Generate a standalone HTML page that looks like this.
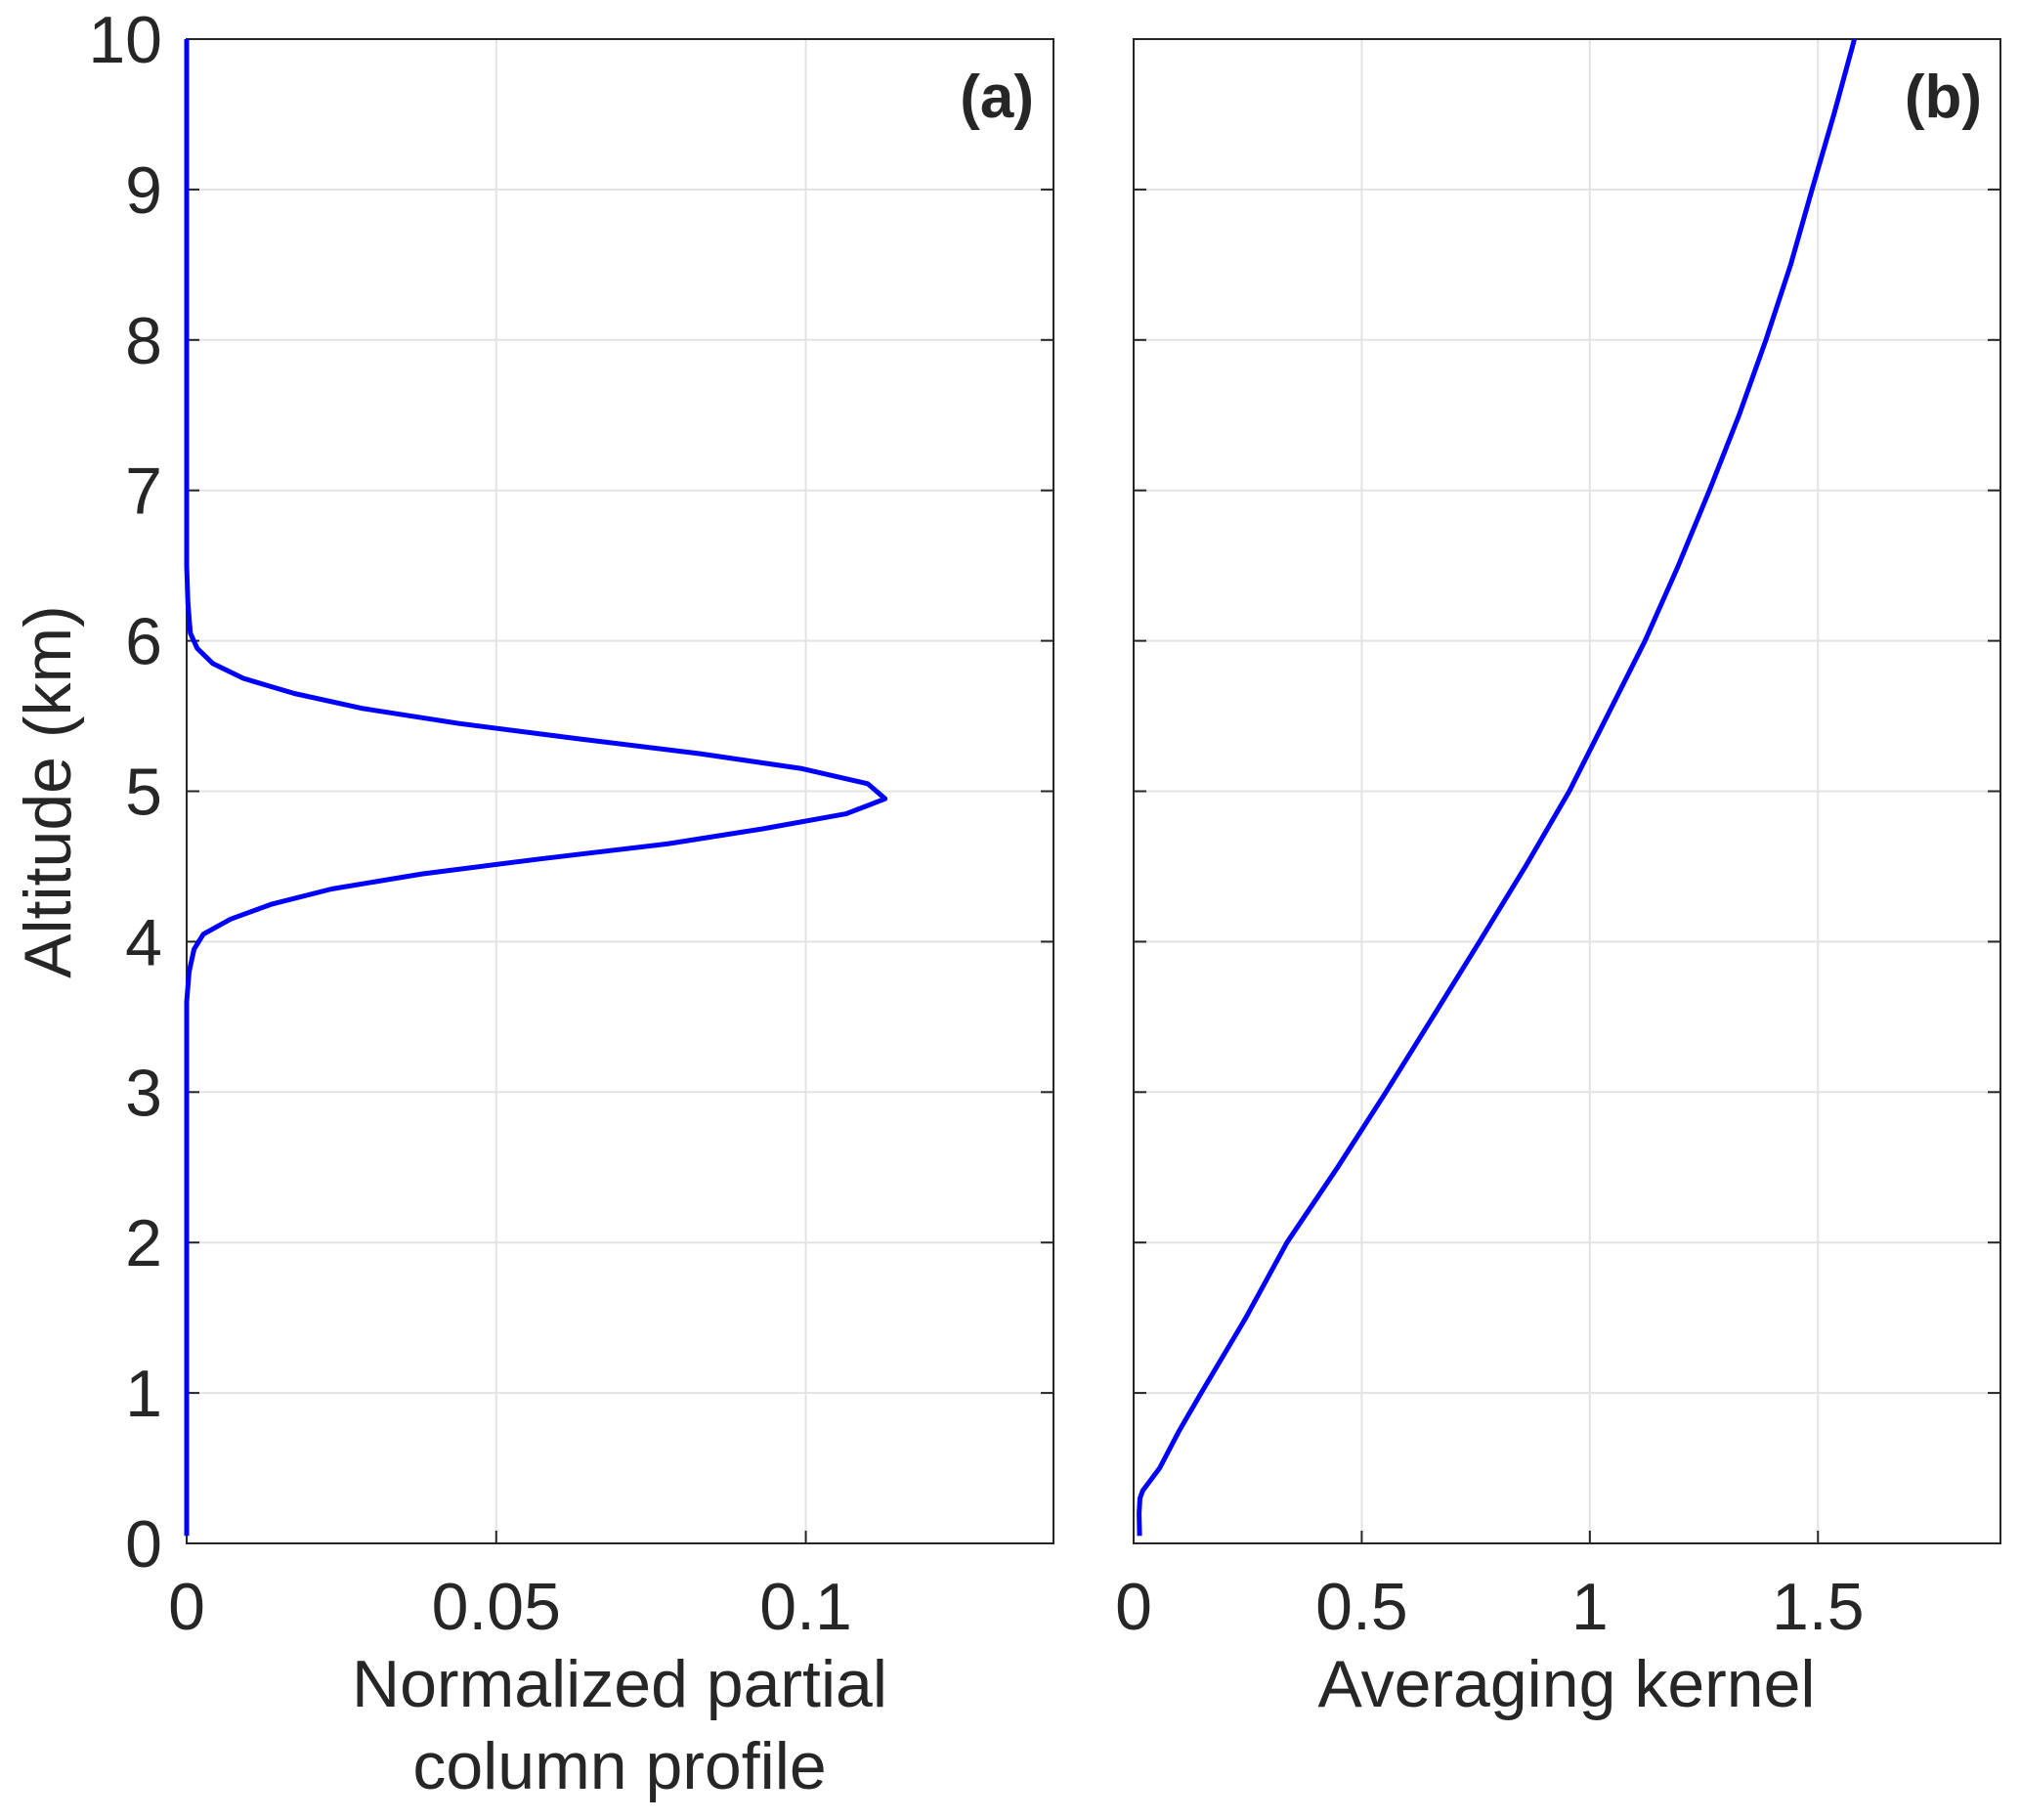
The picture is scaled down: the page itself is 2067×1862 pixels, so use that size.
<!DOCTYPE html>
<html><head><meta charset="utf-8"><style>
html,body{margin:0;padding:0;background:#fff}
svg{display:block}
text{font-family:"Liberation Sans",Arial,sans-serif;fill:#262626}
</style></head><body>
<svg id="fig" width="2067" height="1862" viewBox="0 0 2067 1862" xmlns="http://www.w3.org/2000/svg">
<text x="49" y="810" font-size="68" text-anchor="middle" transform="rotate(-90 49 810)" dominant-baseline="central">Altitude (km)</text>
<text x="634" y="1746" font-size="68" text-anchor="middle">Normalized partial</text>
<text x="634" y="1830" font-size="68" text-anchor="middle">column profile</text>
<text x="1603" y="1746" font-size="68" text-anchor="middle">Averaging kernel</text>
</svg>
<script>
const yTicks=[0,1,2,3,4,5,6,7,8,9,10];
const aTicks=[0,0.05,0.1];
const aTickLabels=["0","0.05","0.1"];
const bTicks=[0,0.5,1,1.5];
const bTickLabels=["0","0.5","1","1.5"];
const aAlt=[0.05,3.6,3.8,3.95,4.05,4.15,4.25,4.35,4.45,4.55,4.65,4.75,4.85,4.95,5.05,5.15,5.25,5.35,5.45,5.55,5.65,5.75,5.85,5.95,6.05,6.25,6.5,10];
const aVal=[0,0,0.0004,0.0012,0.0027,0.0071,0.0138,0.0234,0.038,0.057,0.0776,0.093,0.1065,0.1128,0.110,0.0994,0.0828,0.063,0.044,0.0285,0.0174,0.0092,0.0042,0.0017,0.0006,0.0002,0,0];
const bAlt=[0.05,0.2,0.3,0.35,0.5,0.75,1,1.25,1.5,2,2.5,3,3.5,4,4.5,5,5.5,6,6.5,7,7.5,8,8.5,9,9.5,10];
const bVal=[0.013,0.012,0.014,0.02,0.057,0.1,0.148,0.197,0.246,0.336,0.447,0.553,0.656,0.758,0.859,0.955,1.038,1.121,1.194,1.262,1.327,1.386,1.44,1.487,1.535,1.58];

const NS="http://www.w3.org/2000/svg";
const svgEl=document.getElementById('fig');
const plotTop=40,plotBot=1579;
const yS=v=>plotBot-(v/10)*(plotBot-plotTop);
function mk(tag,attrs){const e=document.createElementNS(NS,tag);for(const k in attrs)e.setAttribute(k,attrs[k]);svgEl.appendChild(e);return e;}
function panel(id,L,R,xmax,ticks,labels,alt,val,tag,tagX){
  const xS=v=>L+v/xmax*(R-L);
  ticks.forEach((t,i)=>{
    if(t>0){const g=mk('line',{x1:xS(t),x2:xS(t),y1:plotTop,y2:plotBot,stroke:'#e3e3e3','stroke-width':2});
    
    }
    const tk=mk('line',{x1:xS(t),x2:xS(t),y1:plotBot,y2:plotBot-13,stroke:'#262626','stroke-width':2});
    
    
    const tx=mk('text',{x:xS(t),y:1667,'font-size':68,'text-anchor':'middle'});
    tx.textContent=labels[i];
    
    
  });
  yTicks.forEach(t=>{
    if(t>0&&t<10){const g=mk('line',{x1:L,x2:R,y1:yS(t),y2:yS(t),stroke:'#e3e3e3','stroke-width':2});
    
    }
    const t1=mk('line',{x1:L,x2:L+13,y1:yS(t),y2:yS(t),stroke:'#262626','stroke-width':2});
    
    
    const t2=mk('line',{x1:R,x2:R-13,y1:yS(t),y2:yS(t),stroke:'#262626','stroke-width':2});
    
    
    if(id==='panel-a'){const tx=mk('text',{x:L-25,y:yS(t)+24,'font-size':68,'text-anchor':'end'});
    tx.textContent=String(t);
    
    }
  });
  const box=mk('rect',{x:L,y:plotTop,width:R-L,height:plotBot-plotTop,fill:'none',stroke:'#262626','stroke-width':2});
  
  
  const pts=alt.map((a,i)=>xS(val[i]).toFixed(1)+','+yS(a).toFixed(1)).join(' ');
  const pl=mk('polyline',{points:pts,fill:'none',stroke:'#0000ff','stroke-width':5,'stroke-linejoin':'round'});
  
  
  const lb=mk('text',{x:tagX,y:120,'font-size':62,'font-weight':'bold','text-anchor':'end'});
  lb.textContent=tag;
  
  
}
panel('panel-a',191,1078,0.14,aTicks,aTickLabels,aAlt,aVal,'(a)',1058);
panel('panel-b',1160,2047,1.9,bTicks,bTickLabels,bAlt,bVal,'(b)',2028);
</script>
</body></html>
